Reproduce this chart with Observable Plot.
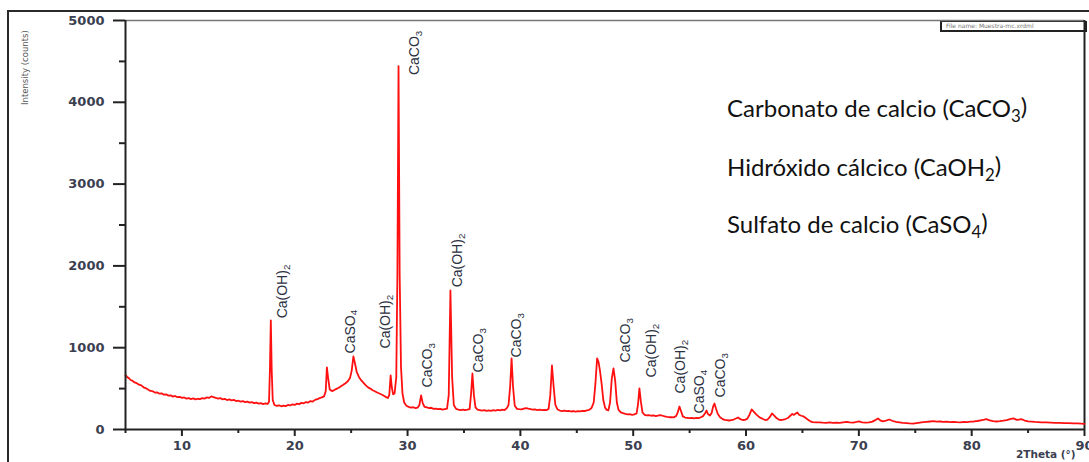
<!DOCTYPE html>
<html><head><meta charset="utf-8">
<script src="https://cdn.jsdelivr.net/npm/d3@7"></script>
<script src="https://cdn.jsdelivr.net/npm/@observablehq/plot@0.6"></script>
<style>
body{margin:0;background:#fff;}
#wrap{position:relative;width:1089px;height:462px;overflow:hidden;background:#fff;}
#outer{position:absolute;left:7px;top:10px;width:1100px;height:460px;border-left:2px solid #2a2a2a;border-top:2px solid #2a2a2a;}
#fname{position:absolute;left:940px;top:21px;width:139px;height:8px;border:2px solid #222;border-top-width:1px;font:6px "DejaVu Sans";color:#777;line-height:8px;padding-left:4px;white-space:nowrap;overflow:hidden;}
</style></head><body><div id="wrap"><div id="outer"></div><div id="fname">File name: Muestra-mc.xrdml</div></div>
<script>
// XRD pattern: [2θ, intensity counts]
const xrdPattern = [
[5.0,665],[5.15,640],[5.3,628],[5.45,605],[5.6,598],[5.8,575],[6.0,566],[6.2,548],[6.4,540],[6.6,516],[6.8,505],[7.0,490],[7.2,472],[7.4,468],[7.6,452],[7.8,455],[8.0,438],[8.2,442],[8.4,425],[8.6,430],[8.8,414],[9.0,418],[9.2,402],[9.4,410],[9.6,395],[9.8,400],
[10.0,386],[10.2,392],[10.4,378],[10.6,385],[10.8,372],[11.0,380],[11.2,368],[11.4,376],[11.6,372],[11.8,384],[12.0,378],[12.2,392],[12.4,386],[12.6,405],[12.8,396],[13.0,388],[13.2,378],[13.4,384],[13.6,368],[13.8,374],[14.0,360],[14.2,368],[14.4,356],[14.6,362],[14.8,348],
[15.0,352],[15.2,340],[15.4,346],[15.6,334],[15.8,340],[16.0,328],[16.2,334],[16.4,322],[16.6,328],[16.8,316],[17.0,322],[17.2,310],[17.4,318],[17.6,312],[17.72,340],[17.8,720],[17.88,1334],[17.96,720],[18.05,360],[18.2,300],[18.4,288],[18.6,296],[18.8,284],[19.0,292],[19.2,286],[19.4,300],[19.6,294],[19.8,308],
[20.0,300],[20.2,316],[20.4,310],[20.6,326],[20.8,320],[21.0,336],[21.2,330],[21.4,348],[21.6,342],[21.8,362],[22.0,370],[22.2,384],[22.4,392],[22.6,405],[22.75,470],[22.85,760],[22.95,640],[23.1,490],[23.3,470],[23.5,482],[23.7,496],[23.9,510],[24.1,528],[24.3,546],[24.5,566],[24.7,590],[24.9,630],
[25.05,720],[25.2,893],[25.35,800],[25.5,700],[25.7,640],[25.9,600],[26.1,570],[26.3,540],[26.5,515],[26.7,500],[26.9,480],[27.1,468],[27.3,452],[27.5,440],[27.7,428],[27.9,412],[28.1,396],[28.25,385],[28.38,420],[28.5,661],[28.6,520],[28.72,430],[28.85,440],[29.0,640],[29.1,1900],[29.2,4443],[29.3,1900],[29.42,760],[29.55,440],[29.7,330],[29.9,290],
[30.1,276],[30.3,268],[30.5,272],[30.7,262],[30.9,268],[31.05,300],[31.2,416],[31.35,320],[31.5,278],[31.7,272],[31.9,262],[32.1,266],[32.3,252],[32.5,256],[32.7,248],[32.9,252],[33.1,244],[33.3,250],[33.5,256],[33.65,420],[33.8,1700],[33.95,640],[34.1,300],[34.3,252],[34.5,244],[34.7,238],[34.9,242],
[35.1,236],[35.3,242],[35.5,250],[35.62,420],[35.75,685],[35.88,420],[36.02,270],[36.2,242],[36.4,236],[36.6,230],[36.8,236],[37.0,228],[37.2,234],[37.4,228],[37.6,236],[37.8,232],[38.0,240],[38.2,234],[38.4,242],[38.6,238],[38.8,262],[38.95,300],[39.1,540],[39.22,870],[39.35,520],[39.5,290],[39.7,252],[39.9,248],
[40.1,246],[40.3,256],[40.5,262],[40.7,254],[40.9,248],[41.1,242],[41.3,246],[41.5,238],[41.7,242],[41.9,236],[42.1,240],[42.3,236],[42.5,252],[42.65,420],[42.8,783],[42.95,520],[43.1,300],[43.3,244],[43.5,232],[43.7,226],[43.9,232],[44.1,224],[44.3,228],[44.5,220],[44.7,226],[44.9,218],
[45.1,224],[45.3,222],[45.5,228],[45.7,226],[45.9,234],[46.1,240],[46.3,262],[46.5,330],[46.65,560],[46.8,870],[46.92,830],[47.05,722],[47.2,560],[47.35,360],[47.5,270],[47.65,240],[47.8,235],[47.95,330],[48.1,620],[48.25,747],[48.4,600],[48.55,330],[48.7,240],[48.9,210],[49.1,200],[49.3,192],[49.5,186],[49.7,188],[49.9,180],
[50.1,184],[50.3,196],[50.42,300],[50.55,502],[50.68,340],[50.82,210],[51.0,180],[51.2,172],[51.4,176],[51.6,168],[51.8,172],[52.0,164],[52.2,170],[52.4,176],[52.6,168],[52.8,160],[53.0,154],[53.2,150],[53.4,152],[53.6,148],[53.8,164],[53.95,210],[54.1,281],[54.25,220],[54.4,160],[54.6,146],[54.8,142],
[55.0,138],[55.2,142],[55.4,136],[55.6,142],[55.8,140],[56.0,150],[56.2,164],[56.4,205],[56.5,232],[56.62,190],[56.8,172],[56.95,200],[57.08,280],[57.2,318],[57.35,250],[57.5,190],[57.7,150],[57.9,130],[58.1,118],[58.3,114],[58.5,110],[58.7,116],[58.9,122],[59.1,134],[59.3,147],[59.5,126],[59.7,116],[59.9,118],
[60.1,130],[60.3,178],[60.5,245],[60.7,215],[60.9,185],[61.1,160],[61.3,142],[61.5,128],[61.7,116],[61.9,122],[62.1,150],[62.3,196],[62.5,170],[62.7,140],[62.9,122],[63.1,116],[63.3,120],[63.5,128],[63.7,140],[63.9,165],[64.1,190],[64.25,178],[64.4,196],[64.55,208],[64.7,180],[64.9,168],
[65.1,160],[65.3,140],[65.5,118],[65.7,100],[65.9,90],[66.2,86],[66.5,88],[66.8,84],[67.1,82],[67.4,86],[67.7,80],[68.0,84],[68.3,82],[68.6,88],[68.9,94],[69.2,86],[69.5,84],[69.8,92],
[70.0,98],[70.3,88],[70.6,84],[70.9,86],[71.2,96],[71.5,118],[71.7,135],[71.9,112],[72.1,100],[72.4,108],[72.7,122],[73.0,104],[73.3,92],[73.6,86],[73.9,80],[74.2,78],[74.5,74],[74.8,72],
[75.1,78],[75.4,84],[75.7,90],[76.0,94],[76.3,98],[76.6,102],[76.9,96],[77.2,98],[77.5,94],[77.8,96],[78.1,90],[78.4,94],[78.7,90],[79.0,88],[79.3,92],[79.6,90],[79.9,96],
[80.2,98],[80.5,104],[80.8,112],[81.1,120],[81.3,126],[81.6,112],[81.9,102],[82.2,98],[82.5,102],[82.8,108],[83.1,116],[83.4,128],[83.7,135],[84.0,118],[84.2,122],[84.4,126],[84.7,110],
[85.0,100],[85.3,96],[85.6,92],[85.9,90],[86.2,88],[86.6,86],[87.0,84],[87.4,82],[87.8,80],[88.2,78],[88.6,77],[89.0,76],[89.4,74],[89.7,72],[90.0,70]
];

// Peak phase annotations (label centre 2θ, intensity at label base, phase)
const labelTheta  = [18.9, 24.9, 28.05, 30.6, 31.8, 34.4, 36.3, 39.7, 49.3, 51.6, 54.2, 55.9, 57.7];
const labelCounts = [1359, 930, 991, 4333, 514, 1738, 698, 881, 820, 637, 440, 196, 392];
const labelPhase  = ["Ca(OH)_2","CaSO_4","Ca(OH)_2","CaCO_3","CaCO_3","Ca(OH)_2","CaCO_3","CaCO_3","CaCO_3","Ca(OH)_2","Ca(OH)_2","CaSO_4","CaCO_3"];

const yMajorTicks = [0, 1000, 2000, 3000, 4000, 5000];
const yMinorTicks = [500, 1500, 2500, 3500, 4500];
const xMajorTicks = [10, 20, 30, 40, 50, 60, 70, 80, 90];
const xMinorTicks = [5, 15, 25, 35, 45, 55, 65, 75, 85];

const legendLines = ["Carbonato de calcio (CaCO_3)", "Hidróxido cálcico (CaOH_2)", "Sulfato de calcio (CaSO_4)"];
const yTitle = "Intensity (counts)";
const xTitle = "2Theta (°)";

const pattern = xrdPattern.map(([x, y]) => ({x, y}));
const labels = labelTheta.map((x, i) => ({x, y: labelCounts[i], t: labelPhase[i]}));

const tickFont = {fontSize: 13, fontWeight: "bold", fill: "#3b4050", tickFormat: d => String(d)};
const plot = Plot.plot({
  width: 1089, height: 462,
  marginLeft: 125, marginRight: 5, marginTop: 20, marginBottom: 33,
  x: {domain: [5, 90]},
  y: {domain: [0, 5000]},
  style: {fontFamily: "DejaVu Sans", color: "#222", background: "transparent", overflow: "visible"},
  marks: [
    Plot.ruleY([5000], {stroke: "#777", strokeWidth: 1.5}),
    Plot.ruleX([90], {stroke: "#222", strokeWidth: 2}),
    Plot.axisY({ticks: yMajorTicks, tickSize: 12, tickPadding: 9, label: null, strokeWidth: 2, ...tickFont}),
    Plot.axisY({ticks: yMinorTicks, tickSize: 6, text: null, label: null, strokeWidth: 2}),
    Plot.axisX({ticks: xMajorTicks, tickSize: 7, tickPadding: 4, label: null, strokeWidth: 2, ...tickFont}),
    Plot.axisX({ticks: xMinorTicks, tickSize: 4, text: null, label: null, strokeWidth: 2}),
    Plot.line(pattern, {x: "x", y: "y", stroke: "#ff1010", strokeWidth: 1.8, strokeLinejoin: "round"}),
    Plot.ruleX([5], {stroke: "#222", strokeWidth: 2}),
    Plot.ruleY([0], {stroke: "#222", strokeWidth: 2}),
    Plot.text(labels, {x: "x", y: "y", text: "t", rotate: -90, textAnchor: "start", lineAnchor: "middle",
      fontSize: 14, fontFamily: "Liberation Sans", fill: "#2c3142"})
  ]
});
document.getElementById("wrap").appendChild(plot);
plot.style.position = "absolute"; plot.style.left = "0"; plot.style.top = "0";

const svg = d3.select(plot);
// axis titles
svg.append("text").attr("transform", "translate(28,105) rotate(-90)").attr("text-anchor", "start")
  .attr("font-family", "DejaVu Sans").attr("font-size", 8.5).attr("fill", "#555").text(yTitle);
svg.append("text").attr("x", 1016).attr("y", 458).attr("text-anchor", "start")
  .attr("font-family", "DejaVu Sans").attr("font-size", 10.5).attr("font-weight", "bold").attr("fill", "#3b4050").text(xTitle);
// legend text block
const legendBaselines = [117, 176, 233];
legendLines.forEach((s, i) => {
  svg.append("text").attr("x", 727).attr("y", legendBaselines[i]).attr("text-anchor", "start")
    .attr("font-family", "Lato").attr("font-size", 24).attr("fill", "#111").text(s);
});
// subscripts
svg.selectAll("text").each(function() {
  const el = this;
  if (el.querySelector("tspan")) return;
  const s = el.textContent;
  const m = s.match(/^(.*)_(\d)(.*)$/);
  if (!m) return;
  el.textContent = "";
  const t = d3.select(el);
  t.append("tspan").text(m[1]);
  t.append("tspan").attr("dy", "0.3em").attr("font-size", "70%").text(m[2]);
  if (m[3]) t.append("tspan").attr("dy", "-0.3em").text(m[3]);
});
</script></body></html>
